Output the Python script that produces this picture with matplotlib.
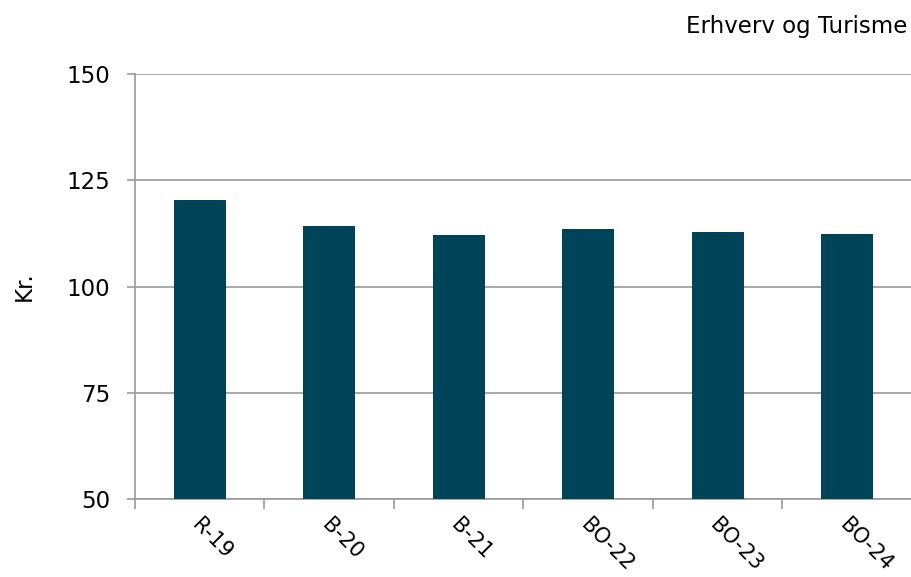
import matplotlib
matplotlib.use("Agg")
import matplotlib.pyplot as plt
import numpy as np

categories = ["R-19", "B-20", "B-21", "BO-22", "BO-23", "BO-24"]
values = [120.4, 114.2, 112.1, 113.5, 112.8, 112.3]
yticks = [50, 75, 100, 125, 150]

plt.rcParams['font.family'] = ['DejaVu Sans']

fig = plt.figure(figsize=(9.12, 5.77), dpi=100)
ax = fig.add_axes([135/912, 1-499/577, 1-135/912, (499-74)/577])

x = np.arange(len(categories))
ax.bar(x, values, width=0.4, color="#00445A", zorder=3, bottom=0)
ax.set_xlim(-0.5, len(categories)-0.5)
ax.set_ylim(50, 150)
ax.set_yticks(yticks)
ax.set_yticklabels([str(t) for t in yticks], fontsize=16.5)
ax.yaxis.grid(True, color="#9a9a9a", linewidth=1.2, zorder=0)
ax.set_axisbelow(True)

for s in ["top", "right"]:
    ax.spines[s].set_visible(False)
for s in ["left", "bottom"]:
    ax.spines[s].set_color("#9a9a9a")
    ax.spines[s].set_linewidth(1.2)

ax.tick_params(axis="y", length=6, color="#9a9a9a", width=1.2, pad=12)
ax.set_xticks(np.arange(len(categories)+1) - 0.5)
ax.set_xticklabels([])
ax.tick_params(axis="x", length=7, color="#9a9a9a", width=1.2)
for i, c in enumerate(categories):
    ax.text(i + 0.02, 46.3, c, rotation=-45, ha="left", va="top",
            rotation_mode="anchor", fontsize=15, clip_on=False)

ax.set_ylabel("Kr.", fontsize=16.5, labelpad=22)
fig.text(907/912, 1-27/577, "Erhverv og Turisme", ha="right", va="center", fontsize=16.5)

fig.savefig("out.png", dpi=100)
